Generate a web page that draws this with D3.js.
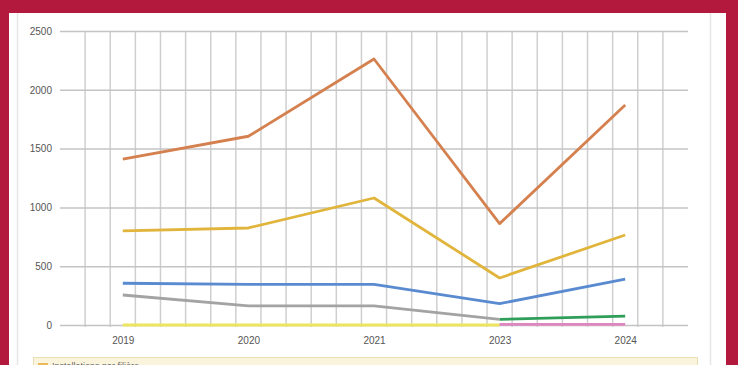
<!DOCTYPE html>
<html><head><meta charset="utf-8">
<script src="https://cdn.jsdelivr.net/npm/d3@7"></script>
<style>
html,body{margin:0;padding:0;background:#b3193c;overflow:hidden}
svg{display:block}
</style></head>
<body>
<svg id="chart" width="738" height="365"></svg>
<script>
const years = ["2019", "2020", "2021", "2023", "2024"];
const yTicks = [0, 500, 1000, 1500, 2000, 2500];
const seriesOrange = [1410, 1605, 2262, 862, 1870];
const seriesGold = [800, 825, 1080, 400, 765];
const seriesBlue = [355, 345, 345, 182, 391];
const seriesGray = [255, 163, 163, 48, null];
const seriesGreen = [null, null, null, 48, 76];
const seriesPink = [null, null, null, 6, 6];
const seriesYellow = [0, 0, 0, 0, null];
const legendLabel = "Installations par filière";

(function () {
const series = [
  {values: seriesYellow, color: "#ece65e"},
  {values: seriesPink, color: "#de86bf"},
  {values: seriesGray, color: "#a3a3a3"},
  {values: seriesGreen, color: "#2e9e58"},
  {values: seriesBlue, color: "#5a8bd0"},
  {values: seriesGold, color: "#e1b53c"},
  {values: seriesOrange, color: "#d5804f"}
];

const svg = d3.select("#chart");
svg.append("rect").attr("x", 9).attr("y", 13).attr("width", 717).attr("height", 360).attr("fill", "#ffffff");
svg.append("line").attr("x1", 17.5).attr("x2", 17.5).attr("y1", 13).attr("y2", 365).attr("stroke", "#e6e6e6").attr("stroke-width", 1.5);
svg.append("line").attr("x1", 710.5).attr("x2", 710.5).attr("y1", 13).attr("y2", 365).attr("stroke", "#e6e6e6").attr("stroke-width", 1.5);

const pL = 60, pR = 688, pT = 31, pB = 325;
const x = d3.scalePoint().domain(years).range([pL, pR]).padding(0.5);
const y = d3.scaleLinear().domain([0, 2500]).range([pB, pT]);

const band = (pR - pL) / years.length;
const vLines = d3.range(1, years.length * 5).map(k => pL + k * band / 5);
svg.append("g").selectAll("line").data(vLines).join("line")
  .attr("x1", d => d).attr("x2", d => d)
  .attr("y1", pT).attr("y2", pB + 2)
  .attr("stroke", "#cfcfcf").attr("stroke-width", 1.5);

const yAxis = d3.axisLeft(y).tickValues(yTicks).tickSize(-(pR - pL)).tickPadding(8).tickFormat(d3.format("d"));
const ya = svg.append("g").attr("transform", `translate(${pL},0)`).call(yAxis);
ya.select(".domain").remove();
ya.selectAll(".tick line").attr("stroke", "#c4c4c4").attr("stroke-width", 1.5);
ya.selectAll(".tick text").attr("fill", "#555").attr("font-size", 10).attr("font-family", "Liberation Sans, Arial, sans-serif");

const xAxis = d3.axisBottom(x).tickSize(0).tickPadding(12);
const xa = svg.append("g").attr("transform", `translate(0,${pB})`).call(xAxis);
xa.select(".domain").remove();
xa.selectAll(".tick text").attr("fill", "#555").attr("font-size", 10).attr("font-family", "Liberation Sans, Arial, sans-serif");

const line = d3.line()
  .defined(d => d.v !== null)
  .x(d => x(d.year)).y(d => y(d.v));

series.forEach(s => {
  const pts = years.map((yr, i) => ({year: yr, v: s.values[i]}));
  svg.append("path").datum(pts)
    .attr("d", line)
    .attr("fill", "none")
    .attr("stroke", s.color)
    .attr("stroke-width", 2.8)
    .attr("stroke-linejoin", "round");
});

svg.append("rect").attr("x", 33.5).attr("y", 357.5).attr("width", 664).attr("height", 20)
  .attr("fill", "#fbf4dc").attr("stroke", "#eadfb4");
svg.append("rect").attr("x", 38).attr("y", 363).attr("width", 10).attr("height", 4).attr("fill", "#e9b95a");
svg.append("text").attr("x", 52).attr("y", 369).attr("font-size", 9).attr("fill", "#666")
  .attr("font-family", "Liberation Sans, Arial, sans-serif").text(legendLabel);
})();
</script>
</body></html>
